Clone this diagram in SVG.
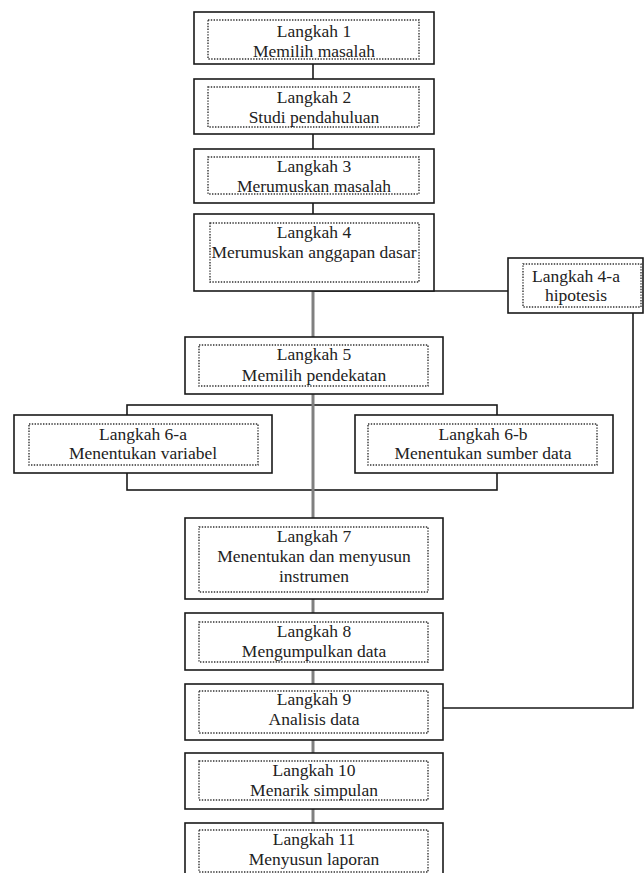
<svg xmlns="http://www.w3.org/2000/svg" width="644" height="873" viewBox="0 0 644 873">
<style>
.o{fill:#fff;stroke:#1a1a1a;stroke-width:1.6}
.i{fill:none;stroke:#333;stroke-width:1.4;stroke-dasharray:1.4 1.4}
.t{font-family:"Liberation Serif","Times New Roman",serif;font-size:17.5px;fill:#222;text-anchor:middle}
.c{fill:none;stroke:#1a1a1a;stroke-width:1.6}
.g{fill:none;stroke:#808080;stroke-width:3}
</style>
<rect width="644" height="873" fill="#fff"/>
<g id="connectors">
<line class="c" x1="313" y1="64" x2="313" y2="79"/>
<line class="c" x1="313" y1="134" x2="313" y2="149"/>
<line class="c" x1="313" y1="203" x2="313" y2="214"/>
<line class="c" x1="313" y1="291" x2="508" y2="291"/>
<polyline class="c" points="633,313 633,708 443,708"/>
<rect class="c" x="127" y="405" width="370" height="85"/>
<line class="g" x1="313" y1="291" x2="313" y2="518"/>
<line class="g" x1="313" y1="599" x2="313" y2="613"/>
<line class="g" x1="313" y1="670" x2="313" y2="684"/>
<line class="g" x1="313" y1="740" x2="313" y2="753"/>
<line class="g" x1="313" y1="809" x2="313" y2="823"/>
</g>
<g id="n1"><rect class="o" x="194" y="12" width="240" height="52"/><rect class="i" x="208" y="20" width="211" height="39"/><text class="t" x="314" y="37">Langkah 1</text><text class="t" x="314" y="57">Memilih masalah</text></g>
<g id="n2"><rect class="o" x="194" y="79" width="240" height="55"/><rect class="i" x="208" y="87" width="211" height="40"/><text class="t" x="314" y="103">Langkah 2</text><text class="t" x="314" y="123">Studi pendahuluan</text></g>
<g id="n3"><rect class="o" x="194" y="149" width="240" height="54"/><rect class="i" x="208" y="157" width="211" height="37"/><text class="t" x="314" y="172">Langkah 3</text><text class="t" x="314" y="192">Merumuskan masalah</text></g>
<g id="n4"><rect class="o" x="194" y="214" width="240" height="77"/><rect class="i" x="210" y="223" width="209" height="59"/><text class="t" x="314" y="238">Langkah 4</text><text class="t" x="314" y="258">Merumuskan anggapan dasar</text></g>
<g id="n4a"><rect class="o" x="508" y="258" width="135" height="55"/><rect class="i" x="523" y="264" width="118" height="43"/><text class="t" x="576" y="282">Langkah 4-a</text><text class="t" x="576" y="301">hipotesis</text></g>
<g id="n5"><rect class="o" x="185" y="337" width="258" height="57"/><rect class="i" x="199" y="345" width="229" height="41"/><text class="t" x="314" y="360">Langkah 5</text><text class="t" x="314" y="381">Memilih pendekatan</text></g>
<g id="n6a"><rect class="o" x="14" y="415" width="258" height="58"/><rect class="i" x="29" y="424" width="229" height="41"/><text class="t" x="143" y="440">Langkah 6-a</text><text class="t" x="143" y="459">Menentukan variabel</text></g>
<g id="n6b"><rect class="o" x="355" y="415" width="258" height="58"/><rect class="i" x="368" y="424" width="229" height="41"/><text class="t" x="483" y="440">Langkah 6-b</text><text class="t" x="483" y="459">Menentukan sumber data</text></g>
<g id="n7"><rect class="o" x="185" y="518" width="258" height="81"/><rect class="i" x="199" y="527" width="229" height="65"/><text class="t" x="314" y="542">Langkah 7</text><text class="t" x="314" y="562">Menentukan dan menyusun</text><text class="t" x="314" y="582">instrumen</text></g>
<g id="n8"><rect class="o" x="185" y="613" width="258" height="57"/><rect class="i" x="199" y="622" width="229" height="40"/><text class="t" x="314" y="637">Langkah 8</text><text class="t" x="314" y="657">Mengumpulkan data</text></g>
<g id="n9"><rect class="o" x="185" y="684" width="258" height="56"/><rect class="i" x="199" y="691" width="229" height="42"/><text class="t" x="314" y="705">Langkah 9</text><text class="t" x="314" y="725">Analisis data</text></g>
<g id="n10"><rect class="o" x="185" y="753" width="258" height="56"/><rect class="i" x="199" y="761" width="229" height="39"/><text class="t" x="314" y="776">Langkah 10</text><text class="t" x="314" y="796">Menarik simpulan</text></g>
<g id="n11"><rect class="o" x="185" y="823" width="258" height="57"/><rect class="i" x="199" y="830" width="229" height="42"/><text class="t" x="314" y="845">Langkah 11</text><text class="t" x="314" y="865">Menyusun laporan</text></g>
</svg>
